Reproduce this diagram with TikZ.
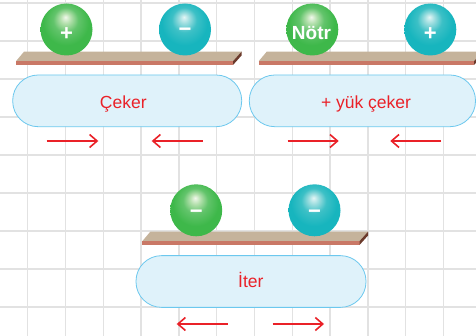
\documentclass[tikz,border=0pt]{standalone}
\usepackage{fontspec}
\setmainfont{Liberation Sans}
\usetikzlibrary{arrows.meta}

% palette
\definecolor{gridgray}{HTML}{E2E2E2}
\definecolor{shelftop}{HTML}{C5B39B}
\definecolor{shelffront}{HTML}{C97866}
\definecolor{shelfside}{HTML}{6B3A2B}
\definecolor{pillfill}{HTML}{DFF2FA}
\definecolor{pilledge}{HTML}{6CC8EE}
\definecolor{labelred}{HTML}{EA2128}
\definecolor{gHi}{HTML}{F2F8EC}
\definecolor{gMid}{HTML}{B4E0AD}
\definecolor{gSoft}{HTML}{62C46B}
\definecolor{gBase}{HTML}{3EB84A}
\definecolor{gEdge}{HTML}{36AC43}
\definecolor{cHi}{HTML}{E4F6F6}
\definecolor{cMid}{HTML}{9CDDDF}
\definecolor{cSoft}{HTML}{3CC0C6}
\definecolor{cBase}{HTML}{17B5BE}
\definecolor{cEdge}{HTML}{11ACB5}

% glossy spheres, soft highlight near the top
\pgfdeclareradialshading{greensphere}{\pgfpoint{-1bp}{12bp}}{%
  color(0bp)=(gHi); color(5bp)=(gMid); color(12bp)=(gSoft);
  color(22bp)=(gBase); color(34bp)=(gBase); color(50bp)=(gEdge)}
\pgfdeclareradialshading{cyansphere}{\pgfpoint{-1bp}{12bp}}{%
  color(0bp)=(cHi); color(5bp)=(cMid); color(12bp)=(cSoft);
  color(22bp)=(cBase); color(34bp)=(cBase); color(50bp)=(cEdge)}

% wooden board: left x, right x, top y
\newcommand{\drawboard}[3]{%
  \fill[shelftop] (#1,#3+9.5) -- (#1+8,#3) -- (#2+8.5,#3) -- (#2,#3+9.5) -- cycle;
  \fill[shelffront] (#1,#3+9.5) rectangle (#2,#3+13.3);
  \fill[shelfside] (#2,#3+9.5) -- (#2+8.5,#3) -- (#2+8.5,#3+3.8) -- (#2,#3+13.3) -- cycle;
}

\tikzset{
  gridline/.style={draw=gridgray, line width=1.3pt},
  sphere/.style={circle, minimum size=52pt, inner sep=0pt},
  greenball/.style={sphere, shading=greensphere},
  cyanball/.style={sphere, shading=cyansphere},
  sign/.style={text=white, font=\bfseries\fontsize{22}{22}\selectfont, inner sep=0pt},
  pill/.style={draw=pilledge, line width=0.8pt, fill=pillfill, minimum height=51.7pt,
               rounded corners=25.5pt, inner sep=0pt},
  pilltext/.style={text=labelred, font=\fontsize{17.5}{20}\selectfont, anchor=base, inner sep=0pt},
  force/.style={draw=labelred, line width=1.6pt, -{Straight Barb[length=7.5pt,width=13pt]}},
}

\begin{document}
\begin{tikzpicture}[x=1pt,y=-1pt]
\useasboundingbox (0,0) rectangle (476,336);
\fill[white] (0,0) rectangle (476,336);

% squared paper
\foreach \gx in {0,...,11} \draw[gridline] ({27.7+37.8*\gx},0) -- ++(0,336);
\foreach \gy in {0,...,8} \draw[gridline] (0,{3+38*\gy}) -- ++(476,0);

% boards
\drawboard{16}{233}{51.7}
\drawboard{258.7}{474}{51.7}
\drawboard{142.3}{359.5}{231.7}

% spheres
\node[greenball] (b1) at (66.5,29.5) {};
\node[cyanball]  (b2) at (185,29.5) {};
\node[greenball] (b3) at (312.3,29.5) {};
\node[cyanball]  (b4) at (430.3,29.5) {};
\node[greenball] (b5) at (196.2,210.3) {};
\node[cyanball]  (b6) at (314.5,210.3) {};

% charges
\node[sign] (s1) at ([yshift=-4.5pt]b1.center) {+};
\node[sign] (s2) at ([yshift=-3pt]b2.center) {−};
\node[text=white, font=\bfseries\fontsize{19}{19}\selectfont, anchor=base, inner sep=0pt]
  (s3) at (311.5,39.3) {Nötr};
\node[sign] (s4) at ([yshift=-5pt]b4.center) {+};
\node[sign] (s5) at ([yshift=-4pt]b5.center) {−};
\node[sign] (s6) at ([yshift=-4pt]b6.center) {−};

% result boxes
\node[pill, minimum width=229pt] (p1) at (127.2,100.85) {};
\node[pill, minimum width=226.2pt] (p2) at (362.4,100.85) {};
\node[pill, minimum width=230pt] (p3) at (251,281.5) {};
\node[pilltext] (t1) at (123.3,108.7) {Çeker};
\node[pilltext] (t2) at (366,108.5) {+ yük çeker};
\node[pilltext] (t3) at (250.8,287.3) {İter};

% force arrows
\coordinate (f1a) at (46.7,141);   \coordinate (f1b) at (98.3,141);
\coordinate (f2a) at (202.7,141);  \coordinate (f2b) at (151.7,141);
\coordinate (f3a) at (287.7,141);  \coordinate (f3b) at (338.7,141);
\coordinate (f4a) at (441,141);    \coordinate (f4b) at (390.3,141);
\coordinate (f5a) at (227.7,324);  \coordinate (f5b) at (176.7,324);
\coordinate (f6a) at (272.7,324);  \coordinate (f6b) at (324,324);
\draw[force] (f1a) -- (f1b);
\draw[force] (f2a) -- (f2b);
\draw[force] (f3a) -- (f3b);
\draw[force] (f4a) -- (f4b);
\draw[force] (f5a) -- (f5b);
\draw[force] (f6a) -- (f6b);
\end{tikzpicture}
\end{document}
